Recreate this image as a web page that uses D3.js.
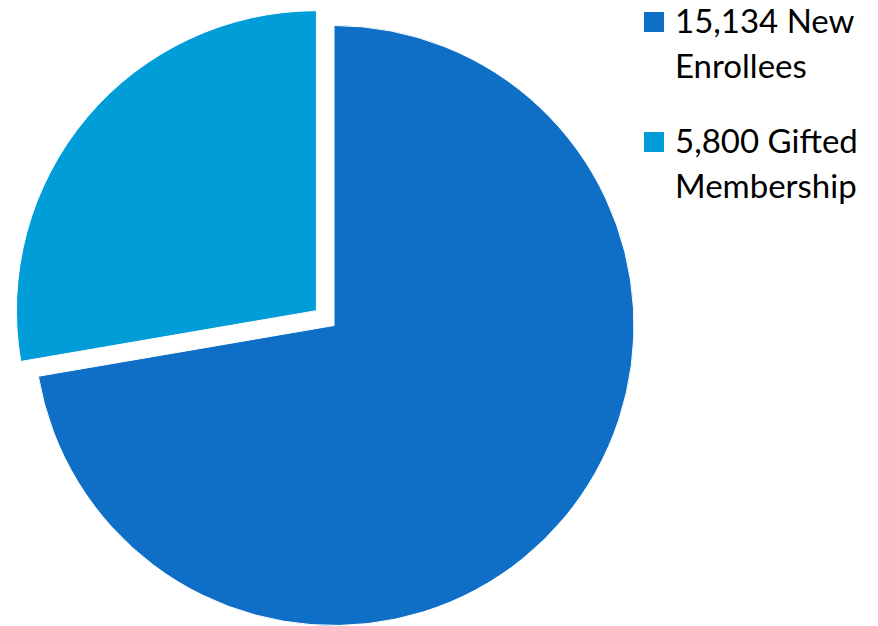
<!DOCTYPE html>
<html lang="en">
<head>
    <meta charset="UTF-8">
    <title>Membership Pie</title>
    <script src="https://d3js.org/d3.v7.min.js"></script>
    <style>
        html, body { margin: 0; padding: 0; background: #fff; }
        #chart { width: 878px; height: 626px; }
        text { font-family: "Lato", "Open Sans", sans-serif; fill: #000; }
    </style>
</head>
<body>
    <div id="chart"></div>

    <script>
        // Data
        const categories = ["New Enrollees", "Gifted Membership"];
        const values = [15134, 5800];
        const colors = ["#0F6FC6", "#009DD9"];
        const exploded = [0, 23];   // pull-out distance per slice

        const width = 878;
        const height = 626;
        const cx = 334, cy = 325.5, radius = 300;

        const svg = d3.select("#chart")
            .append("svg")
            .attr("width", width)
            .attr("height", height);

        const pie = d3.pie().sort(null).value(d => d)
            .startAngle(0).endAngle(2 * Math.PI);
        const arc = d3.arc().innerRadius(0).outerRadius(radius);

        const arcs = pie(values);

        // Slices
        svg.append("g")
            .attr("transform", `translate(${cx},${cy})`)
            .selectAll("path")
            .data(arcs)
            .join("path")
            .attr("d", arc)
            .attr("fill", (d, i) => colors[i])
            .attr("stroke", "#fff")
            .attr("stroke-width", 1)
            .attr("transform", (d, i) => {
                const mid = (d.startAngle + d.endAngle) / 2;
                const off = exploded[i];
                return `translate(${off * Math.sin(mid)},${-off * Math.cos(mid)})`;
            });

        // Legend
        const fmt = d3.format(",");
        const legend = svg.append("g");
        const item = legend.selectAll("g")
            .data(categories)
            .join("g")
            .attr("transform", (d, i) => `translate(644,${12 + i * 120})`);

        item.append("rect")
            .attr("width", 20)
            .attr("height", 20)
            .attr("fill", (d, i) => colors[i]);

        item.each(function(d, i) {
            const words = d.split(" ");
            const t = d3.select(this).append("text")
                .attr("x", 31)
                .attr("y", 21)
                .style("font-size", "33px");
            t.append("tspan").attr("x", 31).text(fmt(values[i]) + " " + words[0]);
            t.append("tspan").attr("x", 31).attr("dy", 45).text(words.slice(1).join(" "));
        });
    </script>
</body>
</html>
